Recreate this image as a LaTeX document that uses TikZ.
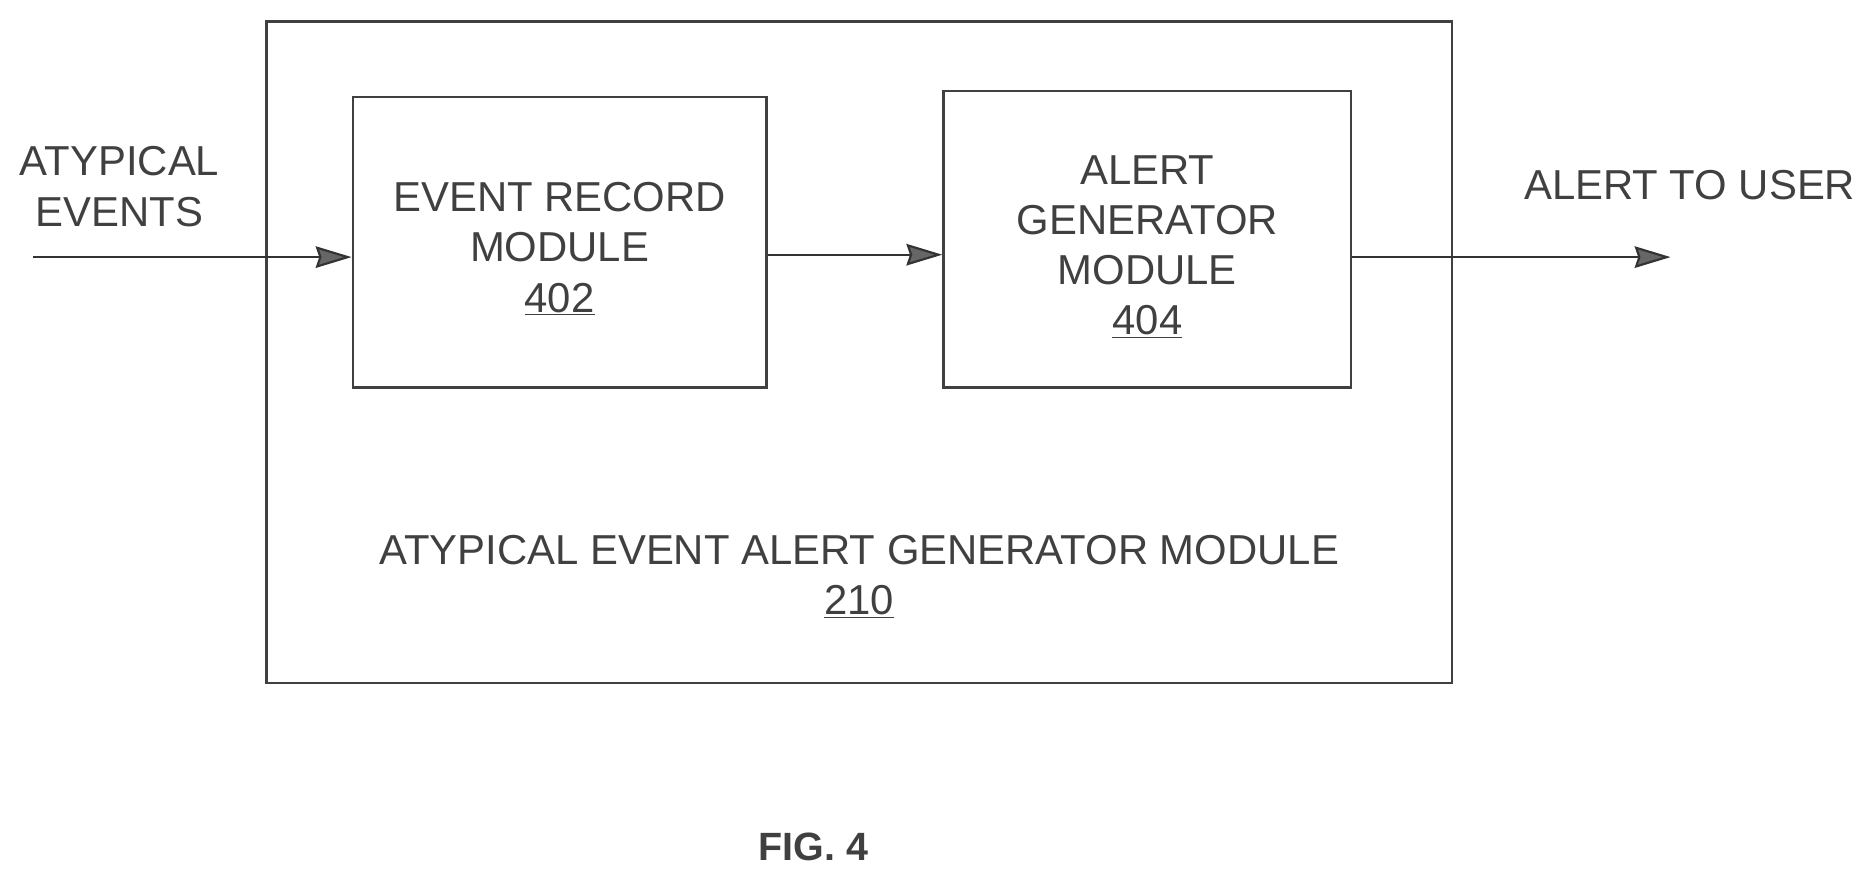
\documentclass[tikz,border=0pt]{standalone}
\usepackage{fontspec}
\setmainfont{Liberation Sans}
\usetikzlibrary{arrows.meta}
\begin{document}
\begin{tikzpicture}[x=1pt,y=-1pt,
  box/.style={draw=black!75,line width=2pt,inner sep=0pt},
  txt/.style={font=\fontsize{35}{42}\selectfont,text=black!75,align=center},
  arr/.style={draw=black!80,line width=1.8pt,-{Stealth[length=30pt,width=18pt,inset=3pt,fill=black!60,color=black!80]}}]
\useasboundingbox (0,0) rectangle (1568,737);
\node[box,minimum width=991pt,minimum height=553pt] (outer) at (718.5,294.5) {};
\node[box,minimum width=346pt,minimum height=243pt] (erm) at (468,202.5) {};
\node[box,minimum width=341pt,minimum height=248pt] (agm) at (959.5,200) {};
\node[txt] (ermt) at (468,208) {EVENT RECORD\\MODULE\\\underline{402}};
\node[txt] (agmt) at (959.5,206) {ALERT\\GENERATOR\\MODULE\\\underline{404}};
\node[txt] (outt) at (718.5,482) {ATYPICAL EVENT ALERT GENERATOR MODULE\\\underline{210}};
\node[txt] (inlab) at (100,156) {ATYPICAL\\EVENTS};
\node[txt] (outlab) at (1413,155) {ALERT TO USER};
\node[txt,font=\bfseries\fontsize{33}{40}\selectfont] (fig) at (680,708) {FIG. 4};
\coordinate (in) at (28,215);
\coordinate (out) at (1397,215);
\draw[arr] (in) -- (in -| erm.west);
\draw[arr] (erm.east |- 0,213) -- (agm.west |- 0,213);
\draw[arr] (agm.east |- out) -- (out);
\end{tikzpicture}
\end{document}
